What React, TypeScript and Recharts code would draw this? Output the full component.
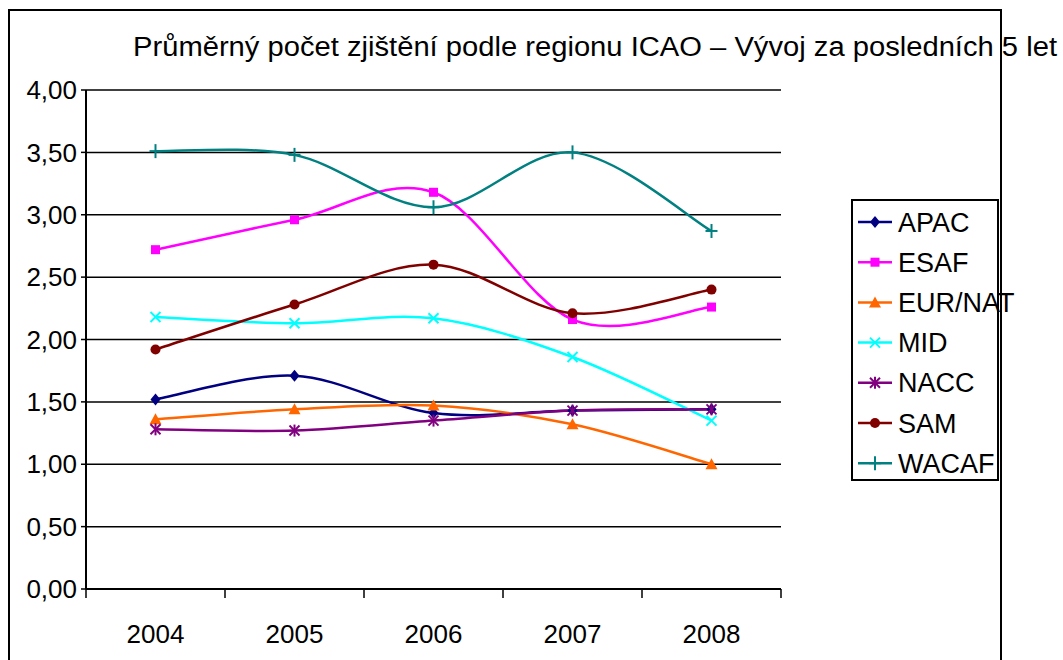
import React from 'react';
import { LineChart, Line, XAxis, YAxis, CartesianGrid } from 'recharts';

const YEARS = ['2004', '2005', '2006', '2007', '2008'];
const APAC = [1.52, 1.71, 1.41, 1.43, 1.44];
const ESAF = [2.72, 2.96, 3.18, 2.16, 2.26];
const EUR_NAT = [1.36, 1.44, 1.47, 1.32, 1.0];
const MID = [2.18, 2.13, 2.17, 1.86, 1.35];
const NACC = [1.28, 1.27, 1.35, 1.43, 1.44];
const SAM = [1.92, 2.28, 2.6, 2.21, 2.4];
const WACAF = [3.51, 3.48, 3.06, 3.5, 2.87];
const Y_TICKS = [0, 0.5, 1, 1.5, 2, 2.5, 3, 3.5, 4];
// category centres plus the boundaries between them (Excel puts ticks between categories)
const X_TICKS = [-0.5, 0, 0.5, 1, 1.5, 2, 2.5, 3, 3.5, 4, 4.5];
const TITLE = 'Průměrný počet zjištění podle regionu ICAO – Vývoj za posledních 5 let';

const FONT = '"Liberation Sans", Arial, sans-serif';

const SERIES = [
  { key: 'APAC', values: APAC, color: '#000080', shape: 'diamond' },
  { key: 'ESAF', values: ESAF, color: '#FF00FF', shape: 'square' },
  { key: 'EUR/NAT', values: EUR_NAT, color: '#FF6600', shape: 'triangle' },
  { key: 'MID', values: MID, color: '#00FFFF', shape: 'x' },
  { key: 'NACC', values: NACC, color: '#800080', shape: 'star' },
  { key: 'SAM', values: SAM, color: '#800000', shape: 'circle' },
  { key: 'WACAF', values: WACAF, color: '#008080', shape: 'plus' },
];

const data = YEARS.map((year, i) => {
  const row: Record<string, number | string> = { idx: i, year };
  SERIES.forEach(s => { row[s.key] = s.values[i]; });
  return row;
});

// Excel-like smoothed line (Catmull-Rom style bezier)
const excelSmooth = (context: any) => {
  let pts: number[][] = [];
  return {
    areaStart() {},
    areaEnd() {},
    lineStart() { pts = []; },
    point(x: number, y: number) { pts.push([+x, +y]); },
    lineEnd() {
      const n = pts.length;
      if (!n) return;
      context.moveTo(pts[0][0], pts[0][1]);
      for (let i = 0; i < n - 1; i++) {
        const p0 = pts[Math.max(i - 1, 0)];
        const p1 = pts[i];
        const p2 = pts[i + 1];
        const p3 = pts[Math.min(i + 2, n - 1)];
        context.bezierCurveTo(
          p1[0] + (p2[0] - p0[0]) / 6, p1[1] + (p2[1] - p0[1]) / 6,
          p2[0] - (p3[0] - p1[0]) / 6, p2[1] - (p3[1] - p1[1]) / 6,
          p2[0], p2[1]
        );
      }
    },
  };
};

const Marker = ({ shape, cx, cy, color }: { shape: string; cx: number; cy: number; color: string }) => {
  switch (shape) {
    case 'diamond':
      return <polygon points={`${cx},${cy - 6} ${cx + 5},${cy} ${cx},${cy + 6} ${cx - 5},${cy}`} fill={color} />;
    case 'square':
      return <rect x={cx - 4.5} y={cy - 4.5} width={9} height={9} fill={color} />;
    case 'triangle':
      return <polygon points={`${cx},${cy - 6} ${cx + 6},${cy + 5} ${cx - 6},${cy + 5}`} fill={color} />;
    case 'x':
      return (
        <g stroke={color} strokeWidth={2}>
          <line x1={cx - 5} y1={cy - 5} x2={cx + 5} y2={cy + 5} />
          <line x1={cx - 5} y1={cy + 5} x2={cx + 5} y2={cy - 5} />
        </g>
      );
    case 'star':
      return (
        <g stroke={color} strokeWidth={2}>
          <line x1={cx - 5} y1={cy - 5} x2={cx + 5} y2={cy + 5} />
          <line x1={cx - 5} y1={cy + 5} x2={cx + 5} y2={cy - 5} />
          <line x1={cx} y1={cy - 6} x2={cx} y2={cy + 6} />
        </g>
      );
    case 'circle':
      return <circle cx={cx} cy={cy} r={5} fill={color} />;
    default:
      return (
        <g stroke={color} strokeWidth={2}>
          <line x1={cx - 6} y1={cy} x2={cx + 6} y2={cy} />
          <line x1={cx} y1={cy - 7} x2={cx} y2={cy + 7} />
        </g>
      );
  }
};

const XTick = (props: any) => {
  const { x, y, payload } = props;
  const v = payload.value as number;
  if (!Number.isInteger(v)) {
    return <line x1={x} y1={y} x2={x} y2={y + 9} stroke="#000" strokeWidth={1.5} />;
  }
  return (
    <text x={x} y={y + 54} textAnchor="middle" fontSize={26} fontFamily={FONT} fill="#000">
      {YEARS[v]}
    </text>
  );
};

const ChartLegend = () => (
  <g>
    <rect x={852} y={200} width={146} height={280} fill="#fff" stroke="#000" strokeWidth={2} />
    {SERIES.map((s, i) => {
      const cy = 222 + i * 40.2;
      return (
        <g key={s.key}>
          <line x1={858} y1={cy} x2={892} y2={cy} stroke={s.color} strokeWidth={2.5} />
          <Marker shape={s.shape} cx={875} cy={cy} color={s.color} />
          <text x={898} y={cy + 9.5} fontSize={27} fontFamily={FONT} fill="#000">{s.key}</text>
        </g>
      );
    })}
  </g>
);

export default function App() {
  return (
    <div style={{ position: 'absolute', left: 0, top: 0, width: 1063, height: 660, overflow: 'hidden', background: '#fff' }}>
      <LineChart
        width={1063}
        height={660}
        data={data}
        margin={{ top: 90, right: 282, bottom: 0, left: 0 }}
      >
        <CartesianGrid vertical={false} stroke="#000" strokeWidth={1.5} />
        <XAxis
          dataKey="idx"
          type="number"
          domain={[-0.5, 4.5]}
          ticks={X_TICKS}
          interval={0}
          tick={<XTick />}
          tickLine={false}
          tickSize={0}
          tickMargin={0}
          height={71}
          axisLine={{ stroke: '#000', strokeWidth: 2 }}
        />
        <YAxis
          type="number"
          domain={[0, 4]}
          ticks={Y_TICKS}
          interval={0}
          width={86}
          tickSize={5}
          tickMargin={4}
          tickFormatter={(v: number) => v.toFixed(2).replace('.', ',')}
          tick={{ fontSize: 26, fontFamily: FONT, fill: '#000' }}
          tickLine={{ stroke: '#000', strokeWidth: 1.5 }}
          axisLine={{ stroke: '#000', strokeWidth: 2 }}
        />
        {SERIES.map(s => (
          <Line
            key={s.key}
            dataKey={s.key}
            name={s.key}
            type={excelSmooth as any}
            stroke={s.color}
            strokeWidth={2.5}
            isAnimationActive={false}
            dot={(p: any) => (
              <g key={`${s.key}-${p.index}`}>
                <Marker shape={s.shape} cx={p.cx} cy={p.cy} color={s.color} />
              </g>
            )}
            activeDot={false}
          />
        ))}
      </LineChart>
      <svg width={1063} height={660} style={{ position: 'absolute', left: 0, top: 0, pointerEvents: 'none', overflow: 'visible' }}>
        <text x={133} y={56} fontSize={27} fontFamily={FONT} fill="#000" textLength={924} lengthAdjust="spacingAndGlyphs">
          {TITLE}
        </text>
        <ChartLegend />
        <path d="M9,700 L9,10 L1001,10 L1001,700" fill="none" stroke="#000" strokeWidth={2} />
      </svg>
    </div>
  );
}
